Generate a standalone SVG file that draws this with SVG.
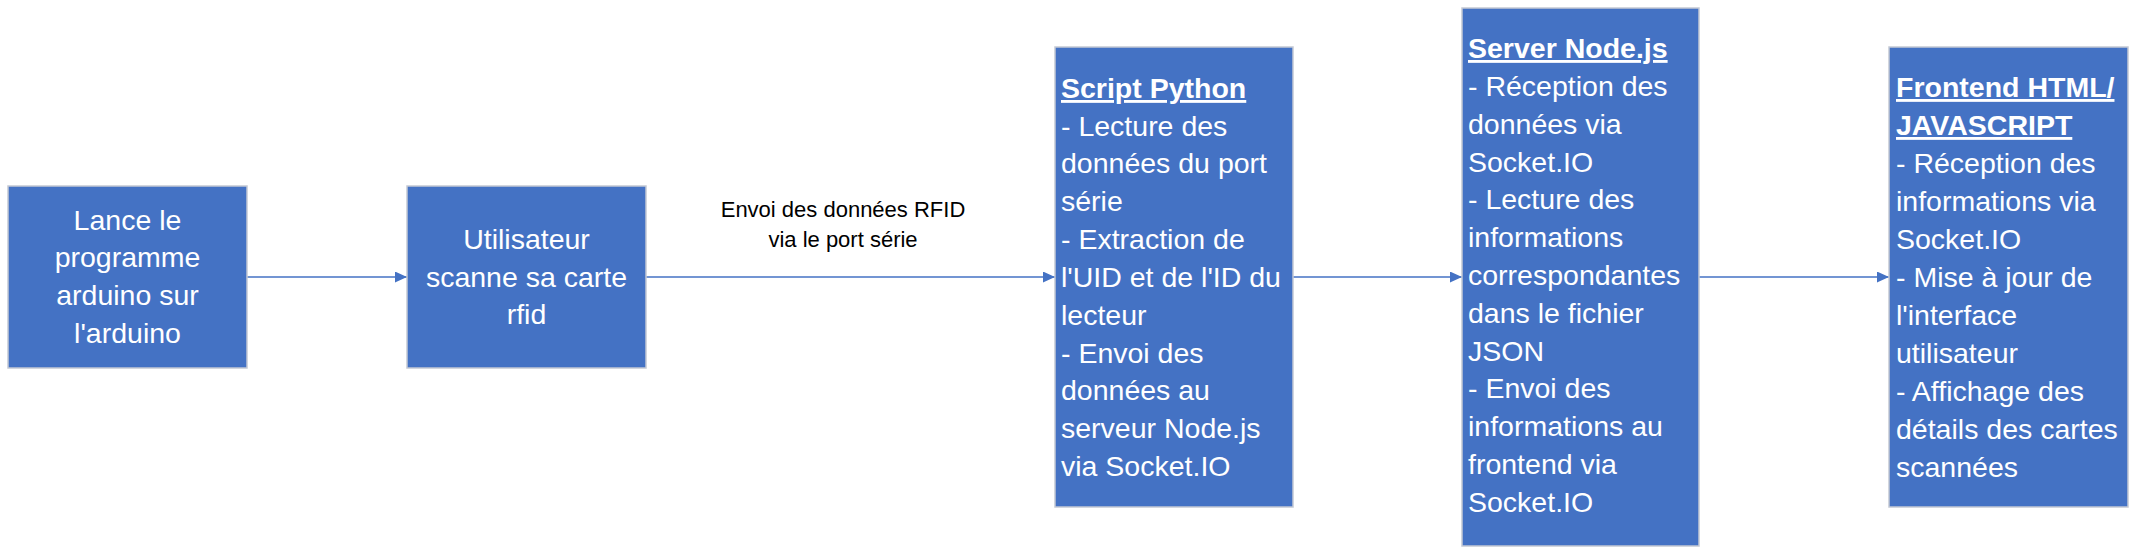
<svg xmlns="http://www.w3.org/2000/svg" width="2148" height="555" viewBox="0 0 2148 555">
<style>
.box{fill:#4472C4;stroke:#C3C9D4;stroke-width:1.5}
.t{font-family:"Liberation Sans",Arial,sans-serif;font-size:28.5px;fill:#FFFFFF}
.c{text-anchor:middle}
.h{font-weight:bold;text-decoration:underline}
.lbl{font-family:"Liberation Sans",Arial,sans-serif;font-size:22px;fill:#000000;text-anchor:middle}
.edge{stroke:#4472C4;stroke-width:1.5;fill:none;marker-end:url(#arr)}
</style>
<defs>
<marker id="arr" markerUnits="userSpaceOnUse" markerWidth="13" markerHeight="11" refX="12" refY="5.5" orient="auto">
<path d="M0,0 L12,5.5 L0,11 Z" fill="#4472C4"/>
</marker>
</defs>
<rect width="2148" height="555" fill="#FFFFFF"/>
<g id="connectors">
<line class="edge" x1="247" y1="277" x2="407" y2="277"/>
<line class="edge" x1="646" y1="277" x2="1055" y2="277"/>
<line class="edge" x1="1293" y1="277" x2="1462" y2="277"/>
<line class="edge" x1="1699" y1="277" x2="1889" y2="277"/>
<text class="lbl" x="843" y="217">Envoi des données RFID</text>
<text class="lbl" x="843" y="247">via le port série</text>
</g>
<g id="n1">
<rect class="box" x="8" y="186" width="239" height="182"/>
<text class="t c" x="127.5" y="230">Lance le</text>
<text class="t c" x="127.5" y="267">programme</text>
<text class="t c" x="127.5" y="305">arduino sur</text>
<text class="t c" x="127.5" y="343">l'arduino</text>
</g>
<g id="n2">
<rect class="box" x="407" y="186" width="239" height="182"/>
<text class="t c" x="526.5" y="249">Utilisateur</text>
<text class="t c" x="526.5" y="287">scanne sa carte</text>
<text class="t c" x="526.5" y="324">rfid</text>
</g>
<g id="n3">
<rect class="box" x="1055" y="47" width="238" height="460"/>
<text class="t h" x="1061" y="98">Script Python</text>
<text class="t" x="1061" y="136">- Lecture des</text>
<text class="t" x="1061" y="173">données du port</text>
<text class="t" x="1061" y="211">série</text>
<text class="t" x="1061" y="249">- Extraction de</text>
<text class="t" x="1061" y="287">l'UID et de l'ID du</text>
<text class="t" x="1061" y="325">lecteur</text>
<text class="t" x="1061" y="363">- Envoi des</text>
<text class="t" x="1061" y="400">données au</text>
<text class="t" x="1061" y="438">serveur Node.js</text>
<text class="t" x="1061" y="476">via Socket.IO</text>
</g>
<g id="n4">
<rect class="box" x="1462" y="8" width="237" height="538"/>
<text class="t h" x="1468" y="58">Server Node.js</text>
<text class="t" x="1468" y="96">- Réception des</text>
<text class="t" x="1468" y="134">données via</text>
<text class="t" x="1468" y="172">Socket.IO</text>
<text class="t" x="1468" y="209">- Lecture des</text>
<text class="t" x="1468" y="247">informations</text>
<text class="t" x="1468" y="285">correspondantes</text>
<text class="t" x="1468" y="323">dans le fichier</text>
<text class="t" x="1468" y="361">JSON</text>
<text class="t" x="1468" y="398">- Envoi des</text>
<text class="t" x="1468" y="436">informations au</text>
<text class="t" x="1468" y="474">frontend via</text>
<text class="t" x="1468" y="512">Socket.IO</text>
</g>
<g id="n5">
<rect class="box" x="1889" y="47" width="239" height="460"/>
<text class="t h" x="1896" y="97">Frontend HTML/</text>
<text class="t h" x="1896" y="135">JAVASCRIPT</text>
<text class="t" x="1896" y="173">- Réception des</text>
<text class="t" x="1896" y="211">informations via</text>
<text class="t" x="1896" y="249">Socket.IO</text>
<text class="t" x="1896" y="287">- Mise à jour de</text>
<text class="t" x="1896" y="325">l'interface</text>
<text class="t" x="1896" y="363">utilisateur</text>
<text class="t" x="1896" y="401">- Affichage des</text>
<text class="t" x="1896" y="439">détails des cartes</text>
<text class="t" x="1896" y="477">scannées</text>
</g>
</svg>
